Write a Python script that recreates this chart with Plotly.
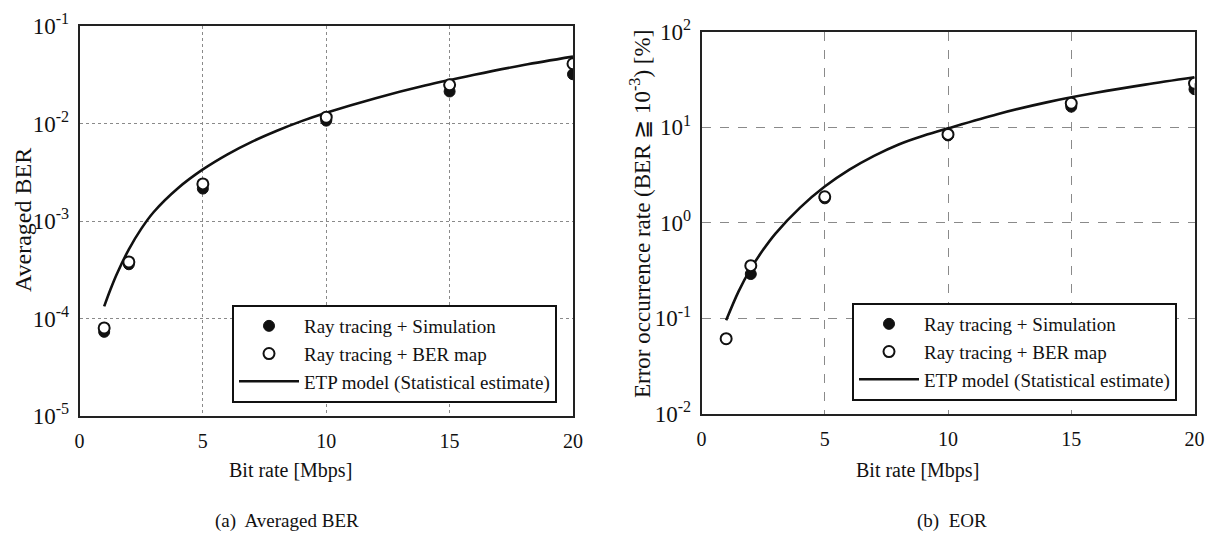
import plotly.graph_objects as go

# ---------------- data ----------------
bit_rate = [1, 2, 5, 10, 15, 20]

# (a) Averaged BER
ber_sim = [7.3e-5, 3.6e-4, 2.15e-3, 1.07e-2, 2.13e-2, 3.2e-2]
ber_map = [8.0e-5, 3.8e-4, 2.4e-3, 1.16e-2, 2.49e-2, 4.1e-2]

ber_etp_x = [1, 1.25, 1.5, 2, 2.5, 3, 4, 5, 6, 7, 8, 9, 10, 12, 14, 16, 18, 20]
ber_etp = [1.33e-4, 1.97e-4, 2.81e-4, 5.12e-4, 8.3e-4, 1.23e-3, 2.18e-3,
           3.38e-3, 4.83e-3, 6.52e-3, 8.43e-3, 1.057e-2, 1.29e-2, 1.82e-2,
           2.45e-2, 3.16e-2, 3.98e-2, 4.85e-2]

# (b) EOR [%]
eor_sim = [None, 0.29, 1.8, 8.2, 16.4, 25.0]
eor_map = [0.061, 0.355, 1.87, 8.4, 17.8, 28.8]
eor_etp_x = [1, 1.5, 2, 2.5, 3, 4, 5, 6, 7, 8, 9, 10, 12, 14, 16, 18, 20]
eor_etp = [0.095, 0.19, 0.33, 0.52, 0.77, 1.44, 2.39, 3.59, 5.01, 6.6, 8.13,
           9.73, 13.7, 18.2, 22.9, 27.9, 33.3]

x_ticks = [0, 5, 10, 15, 20]
ber_ticks = [1e-5, 1e-4, 1e-3, 1e-2, 1e-1]
ber_ticktext = ["10<sup>-5</sup>", "10<sup>-4</sup>", "10<sup>-3</sup>",
                "10<sup>-2</sup>", "10<sup>-1</sup>"]
eor_ticks = [1e-2, 1e-1, 1e0, 1e1, 1e2]
eor_ticktext = ["10<sup>-2</sup>", "10<sup>-1</sup>", "10<sup>0</sup>",
                "10<sup>1</sup>", "10<sup>2</sup>"]

names = ["Ray tracing + Simulation", "Ray tracing + BER map",
         "ETP model (Statistical estimate)"]

FONT = "Liberation Serif, Times New Roman, serif"
W, H = 1209, 550

fig = go.Figure()

def add_panel(xa, ya, leg, sim, mp, ex, etp):
    fig.add_trace(go.Scatter(
        x=ex, y=etp, mode="lines", name=names[2], xaxis=xa, yaxis=ya,
        legend=leg, line=dict(color="#111", width=2.6, shape="spline",
                              smoothing=0.9),
        legendrank=3))
    fig.add_trace(go.Scatter(
        x=bit_rate, y=sim, mode="markers", name=names[0], xaxis=xa, yaxis=ya,
        legend=leg, marker=dict(symbol="circle", size=11, color="#111",
                                line=dict(color="#111", width=1)),
        legendrank=1))
    fig.add_trace(go.Scatter(
        x=bit_rate, y=mp, mode="markers", name=names[1], xaxis=xa, yaxis=ya,
        legend=leg, marker=dict(symbol="circle", size=11, color="white",
                                line=dict(color="#111", width=2)),
        legendrank=2))

add_panel("x", "y", "legend", ber_sim, ber_map, ber_etp_x, ber_etp)
add_panel("x2", "y2", "legend2", eor_sim, eor_map, eor_etp_x, eor_etp)

def px_x(p):
    return p / W

def px_y(p):
    return 1 - p / H

common_x = dict(range=[0, 20], tickvals=x_ticks, showgrid=True,
                gridcolor="#8a8a8a", gridwidth=1, showline=True,
                linecolor="#222", linewidth=1.6, mirror=True, ticks="",
                zeroline=False, automargin=False,
                tickfont=dict(family=FONT, size=20, color="#111"),
                ticklabelstandoff=6)
common_y = dict(type="log", showgrid=True, gridcolor="#8a8a8a", gridwidth=1,
                showline=True, linecolor="#222", linewidth=1.6, mirror=True,
                ticks="", zeroline=False, automargin=False,
                tickfont=dict(family=FONT, size=23, color="#111"),
                ticklabelstandoff=4)

fig.update_layout(
    width=W, height=H,
    margin=dict(l=0, r=0, t=0, b=0),
    paper_bgcolor="white", plot_bgcolor="white",
    font=dict(family=FONT, color="#111"),
    xaxis=dict(domain=[px_x(79.5), px_x(573)], anchor="y", griddash="dot",
               **common_x),
    yaxis=dict(domain=[px_y(416), px_y(26)], anchor="x", range=[-5, -1],
               tickvals=ber_ticks, ticktext=ber_ticktext, griddash="dot",
               **common_y),
    xaxis2=dict(domain=[px_x(701.5), px_x(1194.5)], anchor="y2",
                griddash="dash", **common_x),
    yaxis2=dict(domain=[px_y(413.7), px_y(31.7)], anchor="x2", range=[-2, 2],
                tickvals=eor_ticks, ticktext=eor_ticktext, griddash="dash",
                **common_y),
    legend=dict(x=px_x(232), y=px_y(305), xanchor="left", yanchor="top",
                bgcolor="white", bordercolor="#111", borderwidth=2,
                font=dict(family=FONT, size=19, color="#111"),
                itemwidth=60, traceorder="normal"),
    legend2=dict(x=px_x(852), y=px_y(303), xanchor="left", yanchor="top",
                 bgcolor="white", bordercolor="#111", borderwidth=2,
                 font=dict(family=FONT, size=19, color="#111"),
                 itemwidth=60, traceorder="normal"),
    showlegend=True,
)

annotations = [
    dict(text="Bit rate [Mbps]", x=px_x(290), y=px_y(470), size=20),
    dict(text="Bit rate [Mbps]", x=px_x(918), y=px_y(470), size=20),
    dict(text="(a)  Averaged BER", x=px_x(287), y=px_y(521), size=19),
    dict(text="(b)  EOR", x=px_x(952), y=px_y(521), size=19),
    dict(text="Averaged BER", x=px_x(23), y=px_y(220), size=24, angle=-90),
    dict(text="Error occurrence rate (BER ≧ 10<sup>-3</sup>) [%]",
         x=px_x(640), y=px_y(214), size=23, angle=-90),
]
for a in annotations:
    fig.add_annotation(text=a["text"], x=a["x"], y=a["y"], xref="paper",
                       yref="paper", xanchor="center", yanchor="middle",
                       showarrow=False, textangle=a.get("angle", 0),
                       font=dict(family=FONT, size=a["size"], color="#111"))

fig.write_html("out.html")
